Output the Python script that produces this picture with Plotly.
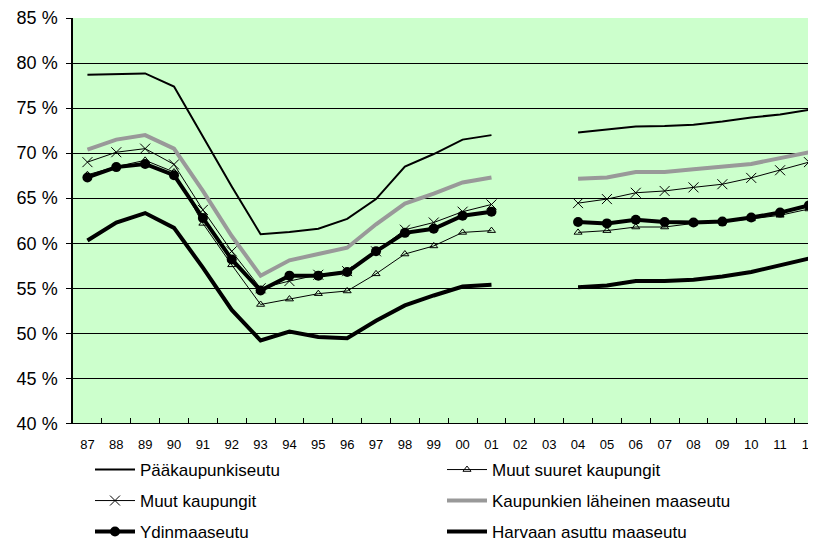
import plotly.graph_objects as go

# ── Data (percent) ───────────────────────────────────────────────
years = ["87", "88", "89", "90", "91", "92", "93", "94", "95", "96", "97", "98", "99",
         "00", "01", "02", "03", "04", "05", "06", "07", "08", "09", "10", "11", "12"]

paakaupunkiseutu = [78.7, 78.8, 78.85, 77.4, 71.9, 66.3, 61.0, 61.25, 61.6, 62.7, 64.9, 68.5, 69.9,
                    71.5, 72.0, None, None, 72.3, 72.6, 72.95, 73.0, 73.15, 73.5, 73.95, 74.3, 74.8]
muut_suuret = [67.6, 68.5, 69.2, 67.9, 62.2, 57.6, 53.2, 53.8, 54.4, 54.7, 56.6, 58.8, 59.7,
               61.2, 61.4, None, None, 61.2, 61.4, 61.8, 61.8, 62.2, 62.4, 62.7, 63.1, 63.8]
muut_kaupungit = [69.0, 70.1, 70.5, 68.75, 63.7, 59.1, 55.0, 55.8, 56.5, 56.9, 59.1, 61.5, 62.3,
                  63.5, 64.3, None, None, 64.45, 64.9, 65.6, 65.8, 66.2, 66.55, 67.25, 68.1, 69.0]
laheinen_maaseutu = [70.4, 71.5, 72.0, 70.5, 65.8, 60.8, 56.4, 58.1, 58.8, 59.5, 62.1, 64.4, 65.5,
                     66.75, 67.3, None, None, 67.15, 67.3, 67.9, 67.9, 68.2, 68.45, 68.8, 69.45, 70.1]
ydinmaaseutu = [67.3, 68.45, 68.8, 67.55, 62.8, 58.2, 54.75, 56.4, 56.4, 56.8, 59.1, 61.15, 61.6,
                63.05, 63.5, None, None, 62.35, 62.2, 62.6, 62.35, 62.3, 62.4, 62.85, 63.4, 64.2]
harvaan_asuttu = [60.3, 62.3, 63.35, 61.7, 57.3, 52.6, 49.2, 50.2, 49.6, 49.45, 51.4, 53.1, 54.2,
                  55.2, 55.4, None, None, 55.1, 55.3, 55.8, 55.8, 55.95, 56.3, 56.8, 57.5, 58.3]

FONT = "Liberation Sans, Arial, sans-serif"

# page body has an 8px default margin, so the figure is 8px smaller each way
W, H = 808, 534
OFF = 8

fig = go.Figure()

# (name, values, line, marker, legend row)
series = [
    ("Pääkaupunkiseutu", paakaupunkiseutu, dict(color="black", width=2), None, "legend"),
    ("Muut suuret kaupungit", muut_suuret, dict(color="black", width=1),
     dict(symbol="triangle-up-open", size=7, color="black", line=dict(width=1)), "legend"),
    ("Muut kaupungit", muut_kaupungit, dict(color="black", width=1),
     dict(symbol="x-thin-open", size=10, color="black", line=dict(width=1, color="black")), "legend2"),
    ("Kaupunkien läheinen maaseutu", laheinen_maaseutu, dict(color="#999999", width=4), None, "legend2"),
    ("Ydinmaaseutu", ydinmaaseutu, dict(color="black", width=4),
     dict(symbol="circle", size=10, color="black"), "legend3"),
    ("Harvaan asuttu maaseutu", harvaan_asuttu, dict(color="black", width=4), None, "legend3"),
]

for name, vals, line, marker, leg in series:
    fig.add_trace(go.Scatter(
        x=years, y=vals, name=name,
        mode="lines+markers" if marker else "lines",
        line=line, marker=marker,
        connectgaps=False,
        legend=leg,
        hovertemplate=f"{name}<br>%{{x}}: %{{y:.1f}} %<extra></extra>",
    ))

legend_common = dict(
    orientation="h", xref="container", yref="container",
    x=(90 - OFF) / W, xanchor="left", yanchor="middle",
    entrywidth=297, entrywidthmode="pixels", itemwidth=40,
    font=dict(family=FONT, size=17, color="black"),
    bgcolor="rgba(0,0,0,0)", tracegroupgap=0,
)


def row_y(px):
    return 1 - (px - OFF) / H


fig.update_layout(
    width=W, height=H,
    margin=dict(l=73 - OFF, r=0, t=16 - OFF, b=H - (426 - OFF)),
    paper_bgcolor="white",
    plot_bgcolor="#CCFFCC",
    font=dict(family=FONT, color="black"),
    legend=dict(legend_common, y=row_y(470)),
    legend2=dict(legend_common, y=row_y(501)),
    legend3=dict(legend_common, y=row_y(532)),
    xaxis=dict(
        type="category", range=[-0.5, 25.21],
        showgrid=False, zeroline=False,
        showline=True, linecolor="black", linewidth=1,
        ticks="inside", tickson="boundaries", ticklen=5, tickcolor="black",
        tickfont=dict(size=13, family=FONT), ticklabeloverflow="allow",
        ticklabelstandoff=9,
    ),
    yaxis=dict(
        range=[40, 85], dtick=5, ticksuffix=" %",
        showgrid=True, gridcolor="black", gridwidth=1,
        zeroline=False,
        showline=True, linecolor="black", linewidth=1.5,
        ticks="outside", ticklen=5, tickcolor="black",
        tickfont=dict(size=18, family=FONT), ticklabeloverflow="allow",
        ticklabelstandoff=5,
    ),
)

fig.write_html("out.html")
